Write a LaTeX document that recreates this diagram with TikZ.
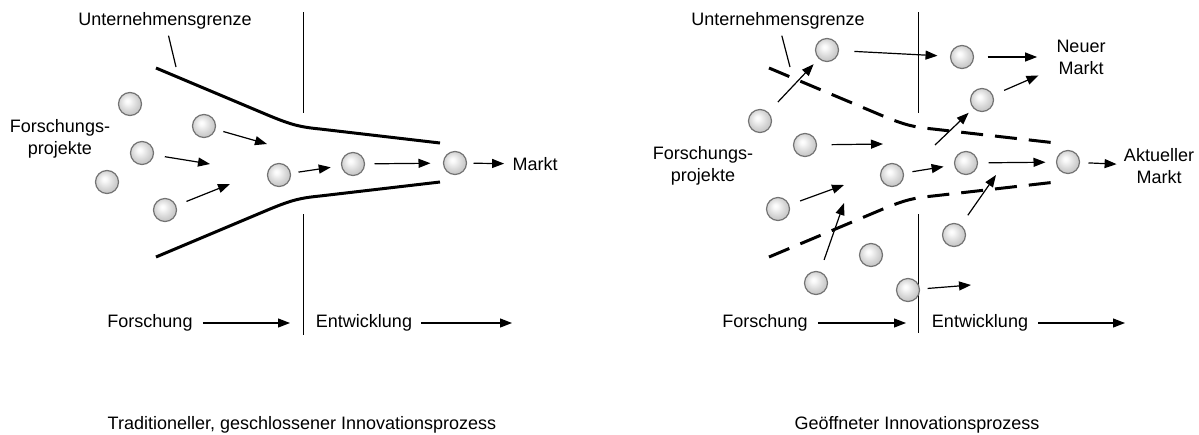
\documentclass[tikz,border=0pt]{standalone}
\usepackage{fontspec}
\setmainfont{Liberation Sans}
\usetikzlibrary{arrows.meta}
\pgfdeclareradialshading{pearl}{\pgfpoint{-6bp}{7bp}}{color(0bp)=(white); color(5bp)=(white!95!gray); color(18bp)=(gray!30); color(25bp)=(gray!42); color(50bp)=(gray!45)}

\begin{document}
\begin{tikzpicture}[x=0.5pt, y=-0.5pt,
        ball/.style={circle, inner sep=0pt, minimum size=11.5pt, shading=pearl, draw=black!55, line width=0.6pt},
        flow/.style={-{Triangle[length=6pt, width=4.5pt]}, line width=0.6pt},
        wall/.style={line width=1.5pt},
        openwall/.style={line width=1.5pt, dash pattern=on 11pt off 6pt},
        txt/.style={font=\fontsize{9}{11}\selectfont, align=center, inner sep=1pt}]
    \useasboundingbox (0, 0) rectangle (1199, 434);

    % left: closed process
    \draw[line width=0.5pt] (303, 12) -- (303, 113) (303, 214) -- (303, 335);
    \draw[wall] (156, 68) -- (270, 116) .. controls (292, 125) and (300, 127) .. (320, 129) -- (440, 143);
    \draw[wall] (156, 257) -- (270, 209) .. controls (292, 200) and (300, 198) .. (320, 196) -- (440, 182);
    \draw (165, 21) node[txt](ugL){Unternehmensgrenze}
        (60, 139) node[txt](fpL){Forschungs-\\projekte}
        (535, 164) node[txt](mkL){Markt}
        (150, 323) node[txt](foL){Forschung}
        (364, 323) node[txt](enL){Entwicklung}
        (302, 429) node[txt, anchor=base](capL){Traditioneller, geschlossener Innovationsprozess};
    \draw (130, 104) node[ball](L1){}
        (204, 126) node[ball](L2){}
        (142, 153) node[ball](L3){}
        (107, 182) node[ball](L4){}
        (165, 210) node[ball](L5){}
        (279, 175) node[ball](L6){}
        (353, 164) node[ball](L7){}
        (455, 163) node[ball](L8){};
    \coordinate (ugLend) at (176, 67);
    \coordinate (tL2) at (267, 144);
    \coordinate (tL3) at (210, 164);
    \coordinate (tL5) at (230, 184);
    \coordinate (foLend) at (290, 323);
    \coordinate (enLend) at (512, 323);
    \draw[line width=0.6pt, shorten <=2pt] (ugL) -- (ugLend);
    \draw[flow, shorten <=4pt] (L2) -- (tL2);
    \draw[flow, shorten <=5.5pt] (L3) -- (tL3);
    \draw[flow, shorten <=5.5pt] (L5) -- (tL5);
    \draw[flow, shorten <=3.8pt, shorten >=5.2pt] (L6) -- (L7);
    \draw[flow, shorten <=4.7pt, shorten >=6.2pt] (L7) -- (L8);
    \draw[flow, shorten <=3.2pt, shorten >=3pt] (L8) -- (mkL);
    \draw[flow, shorten <=4pt] (foL) -- (foLend);
    \draw[flow, shorten <=3.5pt] (enL) -- (enLend);

    % right: open process
    \draw[line width=0.5pt] (918, 12) -- (918, 113) (918, 214) -- (918, 333);
    \draw[openwall] (769, 68) -- (883, 116) .. controls (905, 125) and (913, 127) .. (933, 129) -- (1056, 143);
    \draw[openwall] (769, 257) -- (883, 209) .. controls (905, 200) and (913, 198) .. (933, 196) -- (1056, 182);
    \draw (778, 21) node[txt](ugR){Unternehmensgrenze}
        (703, 166) node[txt](fpR){Forschungs-\\projekte}
        (1081, 57) node[txt](nmR){Neuer\\Markt}
        (1159, 166) node[txt](amR){Aktueller\\Markt}
        (765, 323) node[txt](foR){Forschung}
        (980, 323) node[txt](enR){Entwicklung}
        (917, 429) node[txt, anchor=base](capR){Geöffneter Innovationsprozess};
    \draw (827, 50) node[ball](R1){}
        (962, 57) node[ball](R2){}
        (982, 100) node[ball](R3){}
        (760, 121) node[ball](R4){}
        (805, 145) node[ball](R5){}
        (966, 163) node[ball](R6){}
        (1068, 162) node[ball](R7){}
        (892, 175) node[ball](R8){}
        (778, 209) node[ball](R9){}
        (954, 235) node[ball](R10){}
        (871, 255) node[ball](R11){}
        (816, 283) node[ball](R12){}
        (908, 290) node[ball](R13){};
    \coordinate (ugRend) at (790, 67);
    \coordinate (tR5) at (883, 144);
    \coordinate (sR3) at (935, 145);
    \coordinate (tR9) at (844, 185);
    \coordinate (tR12) at (844, 203);
    \coordinate (tR10) at (996, 175);
    \coordinate (tR13) at (971, 285);
    \coordinate (foRend) at (906, 323);
    \coordinate (enRend) at (1125, 323);
    \draw[line width=0.6pt, shorten <=2pt] (ugR) -- (ugRend);
    \draw[flow, shorten <=7.7pt, shorten >=6.2pt] (R1) -- (R2);
    \draw[flow, shorten <=6.7pt, shorten >=8.5pt] (R2) -- (nmR);
    \draw[flow, shorten <=6pt, shorten >=8.5pt] (R3) -- (nmR);
    \draw[flow, shorten <=7pt, shorten >=3.7pt] (R4) -- (R1);
    \draw[flow, shorten <=7.2pt] (R5) -- (tR5);
    \draw[flow, shorten >=3.2pt] (sR3) -- (R3);
    \draw[flow, shorten <=4.3pt, shorten >=5.3pt] (R8) -- (R6);
    \draw[flow, shorten <=5.2pt, shorten >=5.2pt] (R6) -- (R7);
    \draw[flow, shorten <=4.2pt, shorten >=2.5pt] (R7) -- (amR);
    \draw[flow, shorten <=5.7pt] (R9) -- (tR9);
    \draw[flow, shorten <=6.2pt] (R12) -- (tR12);
    \draw[flow, shorten <=6pt] (R10) -- (tR10);
    \draw[flow, shorten <=3.8pt] (R13) -- (tR13);
    \draw[flow, shorten <=4pt] (foR) -- (foRend);
    \draw[flow, shorten <=4pt] (enR) -- (enRend);
\end{tikzpicture}
\end{document}
